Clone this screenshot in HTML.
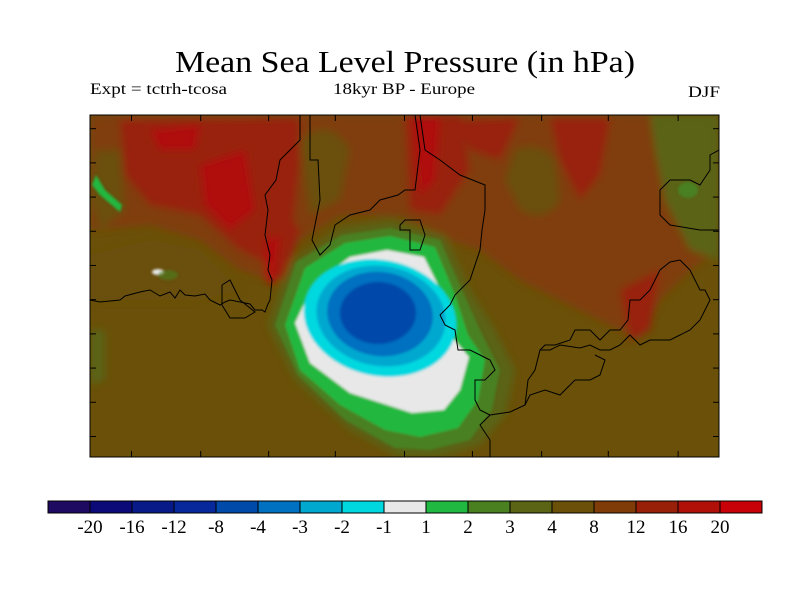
<!DOCTYPE html>
<html><head><meta charset="utf-8"><style>
html,body{margin:0;padding:0;background:#fff;}
svg{display:block;font-family:"Liberation Serif",serif;}
</style></head><body>
<svg id="chart" width="800" height="600" viewBox="0 0 800 600" xmlns="http://www.w3.org/2000/svg">
<defs>
<filter id="blur" x="-20%" y="-20%" width="140%" height="140%"><feGaussianBlur stdDeviation="4"/></filter>
<filter id="blur2" x="-20%" y="-20%" width="140%" height="140%"><feGaussianBlur stdDeviation="1.2"/></filter>
<clipPath id="mapclip"><rect x="90" y="115" width="629" height="342"/></clipPath>
</defs>
<text x="405" y="72" font-size="31" text-anchor="middle" textLength="460" lengthAdjust="spacingAndGlyphs">Mean Sea Level Pressure (in hPa)</text>
<text x="90" y="94" font-size="16" textLength="137" lengthAdjust="spacingAndGlyphs">Expt = tctrh-tcosa</text>
<text x="333" y="94" font-size="16" textLength="142" lengthAdjust="spacingAndGlyphs">18kyr BP - Europe</text>
<text x="688" y="97" font-size="16" textLength="32" lengthAdjust="spacingAndGlyphs">DJF</text>

<g clip-path="url(#mapclip)">
<rect x="90" y="115" width="629" height="342" fill="#6a5008"/>
<g filter="url(#blur)">
<path fill="#803c08" d="M90,115 L719,115 L719,250 L690,270 L660,300 L640,340 L600,320 L560,300 L520,280 L480,250 L450,240 L400,215 L340,215 L300,240 L270,280 L240,270 L200,240 L150,225 L90,230 Z"/>
<path fill="#6a5008" d="M515,150 Q540,140 555,160 L560,200 Q545,225 520,210 L505,180 Z"/>
<path fill="#5a6414" d="M650,115 L719,115 L719,260 L690,250 L665,200 L655,150 Z"/>
<path fill="#6a5008" d="M90,255 L150,240 L200,250 L240,290 L200,300 L90,300 Z"/>
<path fill="#6a5008" d="M300,140 Q330,115 350,150 L340,200 L310,215 Z"/>
<path fill="#6a5008" d="M95,150 L120,150 L125,210 L100,230 L92,200 Z"/>
<!-- red patches -->
<path fill="#982008" d="M120,120 L300,118 L300,160 L290,250 L270,265 L240,250 L200,215 L150,205 L125,175 Z"/>
<path fill="#982008" d="M265,180 L300,230 L285,280 L265,275 Z"/>
<path fill="#982008" d="M405,115 L460,115 L470,170 L440,215 L410,210 Z"/>
<path fill="#982008" d="M455,120 L520,118 L500,160 L470,150 Z"/>
<path fill="#982008" d="M550,118 L610,118 L600,175 L580,200 L560,160 Z"/>
<path fill="#b01008" d="M412,118 L440,118 L435,180 L420,195 Z"/>
<path fill="#b01008" d="M200,165 L245,150 L255,210 L230,230 L205,205 Z"/>
<path fill="#b01008" d="M150,130 L200,125 L195,150 L160,150 Z"/>
<path fill="#b01008" d="M265,240 L280,235 L275,285 L265,280 Z"/>
<path fill="#982008" d="M620,290 L660,270 L650,330 L630,340 Z"/>
<path fill="#5a6414" d="M90,330 L105,330 L105,380 L90,385 Z"/>
<path fill="#5a6414" d="M268,325 L290,262 L340,228 L390,220 L445,235 L470,290 L495,330 L515,370 L505,415 L480,445 L440,457 L400,457 L350,430 L295,380 Z"/>
</g>
<g filter="url(#blur2)">
<path fill="#4a8020" d="M275,325 L296,262 L342,235 L390,228 L440,240 L462,290 L480,330 L500,370 L492,410 L470,440 L430,450 L395,448 L345,420 L298,375 Z"/>
<path fill="#20b840" d="M285,325 L305,268 L345,243 L390,236 L435,247 L455,295 L468,335 L485,360 L478,400 L458,428 L420,437 L385,430 L340,405 L300,370 Z"/>
<path fill="#e8e8e8" d="M295,323 L314,283 L350,257 L387,250 L424,257 L444,297 L452,337 L469,357 L460,390 L444,410 L412,413 L350,393 L310,363 Z"/>
<ellipse cx="380" cy="318" rx="77" ry="58" fill="#00d8e0" transform="rotate(12 380 318)"/>
<ellipse cx="381" cy="316" rx="65" ry="50" fill="#00a8d0" transform="rotate(10 381 316)"/>
<ellipse cx="380" cy="314" rx="53" ry="42" fill="#0070c0" transform="rotate(8 380 314)"/>
<ellipse cx="378" cy="313" rx="38" ry="31" fill="#004aaa"/>
<path fill="#20b840" d="M96,175 L105,190 L122,205 L120,212 L100,195 L92,185 Z"/>
<ellipse cx="158" cy="272" rx="6" ry="3" fill="#e8e8e8"/>
<ellipse cx="168" cy="275" rx="10" ry="5" fill="#4a8020" opacity="0.6"/>
<ellipse cx="688" cy="190" rx="10" ry="8" fill="#4a8020"/>
</g>
<g fill="none" stroke="#000" stroke-width="1">
<polyline points="90,300 100,302 120,300 125,296 140,292 150,290 160,296 170,292 175,298 180,290 185,295 195,296 205,294 210,300 220,305 225,302 230,300 240,302 250,304 255,310 262,310 265,312 268,304 270,300 272,280 268,270 270,255 265,235 268,210 265,195 276,180 280,160 300,140 300,115"/>
<polyline points="222,285 222,305 230,318 245,318 255,312 240,300 235,290 230,280 222,285"/>
<polyline points="310,115 310,160 318,160 320,200 312,240 320,255 330,245 335,225 350,215 370,210 380,200 398,195 405,190 415,190 420,150 415,115"/>
<polyline points="420,115 425,150 440,160 460,175 485,185 485,210 482,230 480,250 470,280 455,295 450,305 440,315 445,325 455,330 458,350 470,350 480,355 490,360 495,370 485,380 475,380 475,400 480,410 490,415 480,425 490,440 490,457"/>
<polyline points="400,225 400,230 410,230 410,250 420,250 425,235 420,220 405,220 400,225"/>
<polyline points="490,415 510,412 525,405 528,380 535,370 540,350 550,350 560,345 580,348 590,345 600,350 610,350 620,345 630,335 640,345 650,340 660,340 670,340 680,335 690,330 700,320 705,310 710,300 705,290 700,290 690,270 680,260 670,262 660,270 650,290 640,300 630,300 628,320 620,330 610,330 600,340 590,330 575,330 570,340 555,345 545,345 540,350"/>
<polyline points="719,150 710,155 710,170 700,185 690,180 670,180 660,190 660,215 670,225 700,230 719,230"/>
<polyline points="525,405 530,395 545,390 560,395 575,380 590,380 600,375 605,360 595,355"/>
</g>
</g>
<rect x="90" y="115" width="629" height="342" fill="none" stroke="#000" stroke-width="1"/>
<g id="ticks" stroke="#000" stroke-width="1"></g>
<g id="colorbar"></g>
<script>
const levelLabels = ["-20","-16","-12","-8","-4","-3","-2","-1","1","2","3","4","8","12","16","20"];
const binColors = ["#1e0a60","#0c0a78","#081a88","#06289a","#004aaa","#0070c0","#00a8d0","#00d8e0","#e8e8e8","#20b840","#4a8020","#5a6414","#6a5008","#803c08","#982008","#b01008","#c80008"];
const yTickFractions = [0.04,0.14,0.24,0.34,0.44,0.54,0.64,0.74,0.84,0.94];
const xTickFractions = [0.066,0.176,0.284,0.39,0.5,0.608,0.718,0.824,0.935];
const NS = "http://www.w3.org/2000/svg";
const cb = document.getElementById("colorbar");
const cbX0 = 48, cbX1 = 762, cbY = 501, cbH = 12;
const cellW = (cbX1 - cbX0) / binColors.length;
const cx = i => cbX0 + i * cellW;
binColors.forEach((c, i) => {
  const r = document.createElementNS(NS, "rect");
  
  
  r.setAttribute("x", cx(i)); r.setAttribute("y", cbY);
  r.setAttribute("width", cellW); r.setAttribute("height", cbH);
  r.setAttribute("fill", c); r.setAttribute("stroke", "#000"); r.setAttribute("stroke-width", "1");
  cb.appendChild(r);
});
levelLabels.forEach((l, i) => {
  const t = document.createElementNS(NS, "text");
  
  
  t.setAttribute("x", cx(i + 1)); t.setAttribute("y", 533);
  t.setAttribute("font-size", "19"); t.setAttribute("text-anchor", "middle");
  t.textContent = l;
  cb.appendChild(t);
});
const tk = document.getElementById("ticks");
const mx0 = 90, mx1 = 719, my0 = 115, my1 = 457;
yTickFractions.forEach(f => {
  const y = my0 + f * (my1 - my0);
  [[mx0, mx0 + 6], [mx1 - 6, mx1]].forEach(([a, b]) => {
    const l = document.createElementNS(NS, "line");
    
    
    l.setAttribute("x1", a); l.setAttribute("x2", b); l.setAttribute("y1", y); l.setAttribute("y2", y);
    tk.appendChild(l);
  });
});
xTickFractions.forEach(f => {
  const x = mx0 + f * (mx1 - mx0);
  [[my0, my0 + 6], [my1 - 6, my1]].forEach(([a, b]) => {
    const l = document.createElementNS(NS, "line");
    
    
    l.setAttribute("x1", x); l.setAttribute("x2", x); l.setAttribute("y1", a); l.setAttribute("y2", b);
    tk.appendChild(l);
  });
});
</script>
</svg>
</body></html>
